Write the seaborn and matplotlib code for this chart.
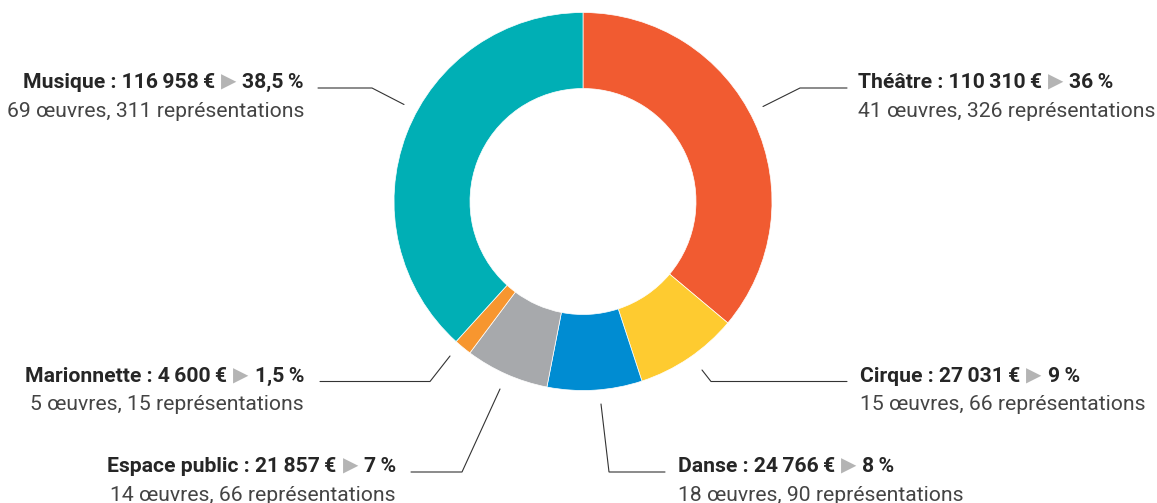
import numpy as np
import pandas as pd
import seaborn as sns
import matplotlib
matplotlib.use("Agg")
import matplotlib.pyplot as plt

# ---------------- data ----------------
categories = ["Théâtre", "Cirque", "Danse", "Espace public", "Marionnette", "Musique"]
amounts = [110310, 27031, 24766, 21857, 4600, 116958]
amount_labels = ["110\u2009310", "27\u2009031", "24\u2009766", "21\u2009857", "4\u2009600", "116\u2009958"]
percent_labels = ["36", "9", "8", "7", "1,5", "38,5"]
oeuvres = [41, 15, 18, 14, 5, 69]
representations = [326, 66, 90, 66, 15, 311]
colors = ["#F15B31", "#FECB30", "#008CD2", "#A7A9AC", "#F7962F", "#00AFB5"]

# ---------------- layout (pixels, y downward) ----------------
W, H = 1157, 503
CX, CY = 583, 201.5
R_OUT, R_IN = 189, 113

# leader line: start, elbow, end ; text anchor x, baseline y, alignment
leaders = {
    "Théâtre":       [(763, 106.5), (800, 88), (847, 88)],
    "Cirque":        [(702, 370), (711, 381.5), (847, 381.5)],
    "Danse":         [(601, 404), (609, 472), (665, 472)],
    "Espace public": [(500, 389), (462, 472), (411, 472)],
    "Marionnette":   [(450, 356), (430, 381.5), (320, 381.5)],
    "Musique":       [(404, 104.5), (372, 88), (318, 88)],
}
text_pos = {
    "Théâtre":       (858, 88, "left"),
    "Cirque":        (860, 381.5, "left"),
    "Danse":         (678, 472, "left"),
    "Espace public": (396, 472, "right"),
    "Marionnette":   (304, 381.5, "right"),
    "Musique":       (304, 88, "right"),
}

sns.set_theme(style="white")
plt.rcParams['font.family'] = ['Roboto', 'DejaVu Sans']

fig = plt.figure(figsize=(W / 100, H / 100), dpi=100)
ax = fig.add_axes([0, 0, 1, 1])

df = pd.DataFrame({"cat": categories, "amount": amounts, "color": colors})
ax.pie(df["amount"], colors=df["color"], startangle=90, counterclock=False,
       center=(CX, H - CY), radius=R_OUT,
       wedgeprops=dict(width=R_OUT - R_IN, linewidth=0.5, edgecolor="white"))
ax.set_xlim(0, W)
ax.set_ylim(0, H)
ax.set_aspect("equal")
ax.axis("off")

renderer = fig.canvas.get_renderer()
DARK = "#262626"
GREY_TXT = "#444444"
TRI = "#b4b4b4"
FS = 15.2
GAP = 6


def draw_pieces(x, y, pieces, ha):
    texts, widths = [], []
    for s, color, weight, size in pieces:
        t = ax.text(0, H - y, s, color=color, fontweight=weight, fontsize=size,
                    va="baseline", ha="left")
        bb = t.get_window_extent(renderer)
        texts.append(t)
        widths.append(bb.width)
    total = sum(widths) + GAP * (len(pieces) - 1)
    x0 = x if ha == "left" else x - total
    for t, w in zip(texts, widths):
        t.set_x(x0)
        x0 += w + GAP


for i, cat in enumerate(categories):
    pts = leaders[cat]
    ax.plot([p[0] for p in pts], [H - p[1] for p in pts], color="#333333", lw=0.8,
            solid_joinstyle="miter")
    x, y, ha = text_pos[cat]
    pieces = [
        (f"{cat} : {amount_labels[i]}\u2009€", DARK, "bold", FS),
        ("▶", TRI, "normal", FS * 0.95),
        (f"{percent_labels[i]}\u2009%", DARK, "bold", FS),
    ]
    draw_pieces(x, y, pieces, ha)
    line2 = f"{oeuvres[i]} œuvres, {representations[i]} représentations"
    ax.text(x, H - (y + 28.7), line2, color=GREY_TXT, fontsize=FS, ha=ha, va="baseline")

fig.savefig("out.png", dpi=100, facecolor="white")
